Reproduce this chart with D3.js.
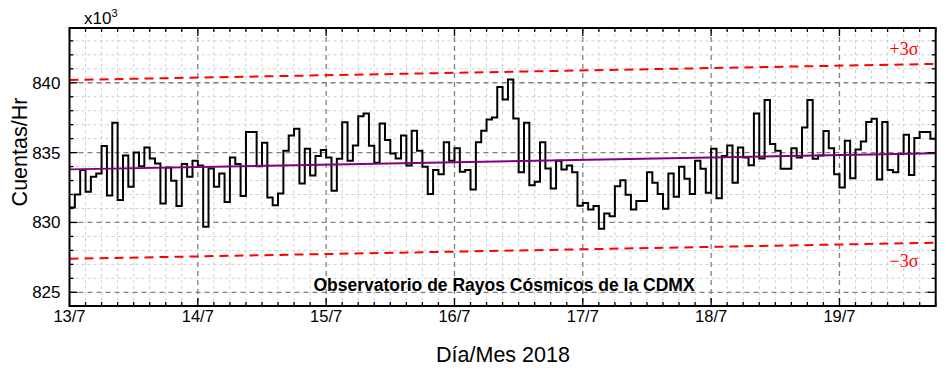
<!DOCTYPE html>
<html><head><meta charset="utf-8">
<script src="https://cdn.jsdelivr.net/npm/d3@7"></script>
<style>body{margin:0;background:#fff}svg{display:block}</style>
</head><body><svg id="c" width="946" height="373"></svg>
<script>
// ---- data ----
const dayLabels = ["13/7","14/7","15/7","16/7","17/7","18/7","19/7"];
const dayHours  = [0,24,48,72,96,120,144];
const yTickValues = [825,830,835,840];
// hourly counts (x10^3), starting 13/7 00:00
const countsDay13 = [831.07,832.0,833.75,832.2,833.27,833.5,835.47,831.93,837.14,831.6,834.8,832.55,835.0,834.03,835.37,834.58,834.22,831.36,833.94,832.98,831.17,834.18,833.27,834.42];
const countsDay14 = [834.08,829.69,833.87,832.55,833.5,831.46,834.65,834.18,831.89,836.47,836.47,834.03,835.7,831.79,831.24,832.08,835.13,836.23,836.7,832.79,835.27,833.37,834.75,835.18];
const countsDay15 = [834.65,832.27,834.56,837.18,834.42,835.51,837.6,837.8,835.5,834.27,837.09,835.9,834.94,834.58,836.23,834.08,836.56,835.13,833.99,832.03,833.75,833.46,835.75,834.42];
const countsDay16 = [835.32,833.63,833.75,832.36,835.75,836.56,837.37,837.52,839.7,838.8,840.24,837.45,833.6,837.14,832.67,832.91,835.75,833.87,832.43,834.42,833.8,834.08,833.6,831.19];
const countsDay17 = [831.4,830.93,831.17,829.55,830.64,830.45,832.6,833.03,831.98,830.93,831.53,831.53,833.6,832.84,832.03,830.98,833.5,831.84,833.99,833.13,832.03,834.42,833.84,832.12];
const countsDay18 = [835.27,831.74,834.75,835.51,832.84,835.37,834.65,834.1,837.8,834.58,838.76,835.61,835.13,833.84,833.84,835.32,834.65,836.8,838.76,834.56,834.8,836.54,835.32,833.46];
const countsDay19 = [832.5,835.85,833.17,835.23,835.8,837.2,837.42,833.08,837.2,833.75,833.6,834.9,836.28,833.4,836.04,836.47,836.47,835.99];
const trendValues = [833.8, 834.95];   // linear fit at start / end
const sigmaOffset = [6.4];             // 3 sigma
const hourRange = [0, 162];

// ---- layout ----
const svg = d3.select("#c");
const L = 69.5, T = 28, R = 935.7, B = 306;
const x = d3.scaleLinear().domain(hourRange).range([L, R]);
const y = d3.scaleLinear().domain([824.02, 843.92]).range([B, T]);
const counts = [].concat(countsDay13,countsDay14,countsDay15,countsDay16,countsDay17,countsDay18,countsDay19);

svg.append("defs").append("clipPath").attr("id","clip")
  .append("rect").attr("x",L).attr("y",T).attr("width",R-L).attr("height",B-T);

// minor grid
const minorX = d3.range(3, 162, 3).filter(h => h % 24 !== 0);
const minorY = d3.range(825, 844, 1).filter(v => v % 5 !== 0);
const g = svg.append("g");
g.selectAll(".mx").data(minorX).join("line")
  .attr("x1",d=>x(d)).attr("x2",d=>x(d)).attr("y1",T).attr("y2",B)
  .attr("stroke","#d0d0d0").attr("stroke-width",1).attr("stroke-dasharray","3,3");
g.selectAll(".my").data(minorY).join("line")
  .attr("y1",d=>y(d)).attr("y2",d=>y(d)).attr("x1",L).attr("x2",R)
  .attr("stroke","#d0d0d0").attr("stroke-width",1).attr("stroke-dasharray","3,3");
// major grid
g.selectAll(".Mx").data(dayHours.slice(1)).join("line")
  .attr("x1",d=>x(d)).attr("x2",d=>x(d)).attr("y1",T).attr("y2",B)
  .attr("stroke","#808080").attr("stroke-width",1.3).attr("stroke-dasharray","5,4");
g.selectAll(".My").data(yTickValues).join("line")
  .attr("y1",d=>y(d)).attr("y2",d=>y(d)).attr("x1",L).attr("x2",R)
  .attr("stroke","#808080").attr("stroke-width",1.3).attr("stroke-dasharray","5,4");

const plot = svg.append("g").attr("clip-path","url(#clip)");
// sigma bands
[1,-1].forEach(s => {
  plot.append("line")
    .attr("x1",x(hourRange[0])).attr("x2",x(hourRange[1]))
    .attr("y1",y(trendValues[0]+s*sigmaOffset[0])).attr("y2",y(trendValues[1]+s*sigmaOffset[0]))
    .attr("stroke","#ff0000").attr("stroke-width",2).attr("stroke-dasharray","9,6");
});
// step line
const pts = counts.map((v,i)=>[i,v]);
pts.push([counts.length, counts[counts.length-1]]);
plot.append("path").datum(pts)
  .attr("d", d3.line().x(d=>x(d[0])).y(d=>y(d[1])).curve(d3.curveStepAfter))
  .attr("fill","none").attr("stroke","#000").attr("stroke-width",2);
// trend
plot.append("line")
  .attr("x1",x(hourRange[0])).attr("x2",x(hourRange[1]))
  .attr("y1",y(trendValues[0])).attr("y2",y(trendValues[1]))
  .attr("stroke","#800080").attr("stroke-width",2);

// ticks (inward on all sides)
const tk = svg.append("g").attr("stroke","#000").attr("stroke-width",1.3);
const allMinorX = d3.range(0, 163, 3);
allMinorX.forEach(h => {
  const len = (h % 24 === 0) ? 8 : 4;
  tk.append("line").attr("x1",x(h)).attr("x2",x(h)).attr("y1",B).attr("y2",B-len);
  tk.append("line").attr("x1",x(h)).attr("x2",x(h)).attr("y1",T).attr("y2",T+len);
});
d3.range(825, 844, 1).forEach(v => {
  const len = (v % 5 === 0) ? 8 : 4;
  tk.append("line").attr("y1",y(v)).attr("y2",y(v)).attr("x1",L).attr("x2",L+len);
  tk.append("line").attr("y1",y(v)).attr("y2",y(v)).attr("x1",R).attr("x2",R-len);
});

// frame
svg.append("rect").attr("x",L).attr("y",T).attr("width",R-L).attr("height",B-T)
  .attr("fill","none").attr("stroke","#000").attr("stroke-width",2);

// tick labels
const font = "Arial, 'Liberation Sans', sans-serif";
svg.selectAll(".yl").data(yTickValues).join("text")
  .attr("x",L-9).attr("y",d=>y(d)).attr("dy","0.35em").attr("text-anchor","end")
  .attr("font-family",font).attr("font-size",17).text(d=>d);
svg.selectAll(".xl").data(dayHours).join("text")
  .attr("x",(d)=>x(d)).attr("y",322).attr("text-anchor","middle")
  .attr("font-family",font).attr("font-size",16.5).text((d,i)=>dayLabels[i]);

// multiplier
const mt = svg.append("text").attr("x",84).attr("y",24).attr("font-family",font).attr("font-size",17);
mt.append("tspan").text("x10");
mt.append("tspan").attr("font-size",11).attr("dy",-7).text("3");

// axis titles
svg.append("text").attr("transform","translate(27,152) rotate(-90)").attr("text-anchor","middle")
  .attr("font-family",font).attr("font-size",21.5).text("Cuentas/Hr");
svg.append("text").attr("x",503).attr("y",362).attr("text-anchor","middle")
  .attr("font-family",font).attr("font-size",21.5).text("Día/Mes 2018");
svg.append("text").attr("x",504).attr("y",291).attr("text-anchor","middle")
  .attr("font-family",font).attr("font-size",17.5).attr("font-weight","bold")
  .text("Observatorio de Rayos Cósmicos de la CDMX");
// sigma labels
const serif = "'Times New Roman', 'Liberation Serif', serif";
svg.append("text").attr("x",904).attr("y",55).attr("text-anchor","middle").attr("fill","#ff0000")
  .attr("font-family",serif).attr("font-size",18).text("+3σ");
svg.append("text").attr("x",904).attr("y",267).attr("text-anchor","middle").attr("fill","#ff0000")
  .attr("font-family",serif).attr("font-size",18).text("−3σ");
</script></body></html>
